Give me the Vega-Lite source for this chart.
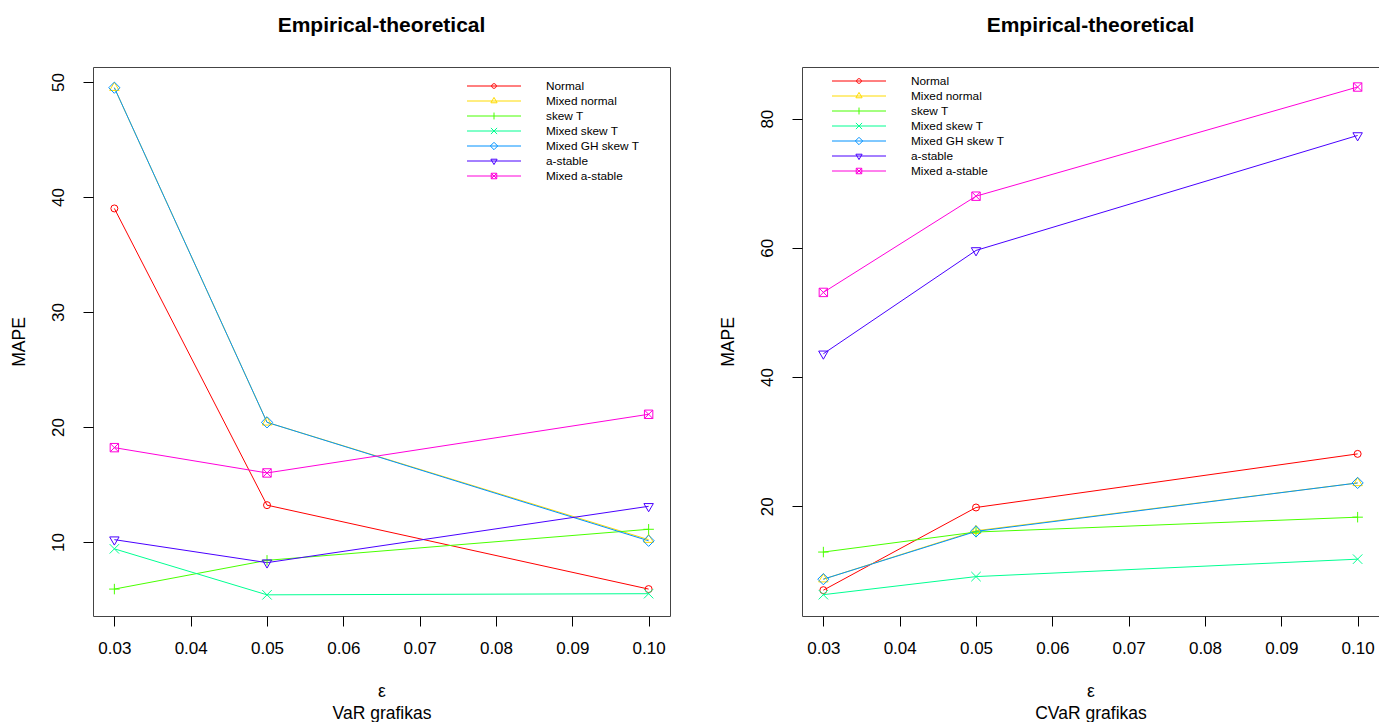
{
  "$schema": "https://vega.github.io/schema/vega-lite/v6.json",
  "padding": {"left": 9, "top": 14, "right": 0, "bottom": 0},
  "spacing": 41,
  "datasets": {
    "var": [
      {"eps": 0.03, "series": "Normal", "mape": 39.0},
      {"eps": 0.05, "series": "Normal", "mape": 13.2},
      {"eps": 0.10, "series": "Normal", "mape": 5.9},
      {"eps": 0.03, "series": "Mixed normal", "mape": 49.5},
      {"eps": 0.05, "series": "Mixed normal", "mape": 20.4},
      {"eps": 0.10, "series": "Mixed normal", "mape": 10.2},
      {"eps": 0.03, "series": "skew T", "mape": 5.9},
      {"eps": 0.05, "series": "skew T", "mape": 8.4},
      {"eps": 0.10, "series": "skew T", "mape": 11.1},
      {"eps": 0.03, "series": "Mixed skew T", "mape": 9.4},
      {"eps": 0.05, "series": "Mixed skew T", "mape": 5.4},
      {"eps": 0.10, "series": "Mixed skew T", "mape": 5.5},
      {"eps": 0.03, "series": "Mixed GH skew T", "mape": 49.5},
      {"eps": 0.05, "series": "Mixed GH skew T", "mape": 20.4},
      {"eps": 0.10, "series": "Mixed GH skew T", "mape": 10.1},
      {"eps": 0.03, "series": "a-stable", "mape": 10.2},
      {"eps": 0.05, "series": "a-stable", "mape": 8.2},
      {"eps": 0.10, "series": "a-stable", "mape": 13.1},
      {"eps": 0.03, "series": "Mixed a-stable", "mape": 18.2},
      {"eps": 0.05, "series": "Mixed a-stable", "mape": 16.0},
      {"eps": 0.10, "series": "Mixed a-stable", "mape": 21.1}
    ],
    "cvar": [
      {"eps": 0.03, "series": "Normal", "mape": 7.0},
      {"eps": 0.05, "series": "Normal", "mape": 19.8},
      {"eps": 0.10, "series": "Normal", "mape": 28.1},
      {"eps": 0.03, "series": "Mixed normal", "mape": 8.7},
      {"eps": 0.05, "series": "Mixed normal", "mape": 16.2},
      {"eps": 0.10, "series": "Mixed normal", "mape": 23.6},
      {"eps": 0.03, "series": "skew T", "mape": 12.9},
      {"eps": 0.05, "series": "skew T", "mape": 16.0},
      {"eps": 0.10, "series": "skew T", "mape": 18.3},
      {"eps": 0.03, "series": "Mixed skew T", "mape": 6.3},
      {"eps": 0.05, "series": "Mixed skew T", "mape": 9.1},
      {"eps": 0.10, "series": "Mixed skew T", "mape": 11.8},
      {"eps": 0.03, "series": "Mixed GH skew T", "mape": 8.7},
      {"eps": 0.05, "series": "Mixed GH skew T", "mape": 16.1},
      {"eps": 0.10, "series": "Mixed GH skew T", "mape": 23.6},
      {"eps": 0.03, "series": "a-stable", "mape": 43.6},
      {"eps": 0.05, "series": "a-stable", "mape": 59.6},
      {"eps": 0.10, "series": "a-stable", "mape": 77.4},
      {"eps": 0.03, "series": "Mixed a-stable", "mape": 53.1},
      {"eps": 0.05, "series": "Mixed a-stable", "mape": 68.0},
      {"eps": 0.10, "series": "Mixed a-stable", "mape": 84.9}
    ]
  },
  "config": {
    "font": "Liberation Sans",
    "view": {"stroke": "#444444", "strokeWidth": 1},
    "axis": {
      "grid": false,
      "domain": false,
      "tickColor": "#000000",
      "tickSize": 10,
      "tickWidth": 1,
      "labelFont": "Liberation Sans",
      "labelFontSize": 17,
      "labelColor": "#000000",
      "labelFlush": false,
      "titleFont": "Liberation Sans",
      "titleFontSize": 17.5,
      "titleFontWeight": "normal",
      "titleColor": "#000000"
    },
    "title": {
      "font": "Liberation Sans",
      "fontSize": 21,
      "fontWeight": "bold",
      "color": "#000000",
      "anchor": "middle",
      "frame": "group",
      "offset": 31,
      "baseline": "alphabetic"
    },
    "legend": {
      "title": null,
      "symbolSize": 144,
      "symbolStrokeWidth": 1,
      "symbolOpacity": 1,
      "labelFont": "Liberation Sans",
      "labelFontSize": 11.8,
      "labelColor": "#000000",
      "labelOffset": 45.5,
      "labelLimit": 400,
      "rowPadding": 1,
      "padding": 0
    }
  },
  "hconcat": [
    {
      "width": 577,
      "height": 549,
      "data": {"name": "var"},
      "title": {"text": "Empirical-theoretical"},
      "resolve": {"scale": {"color": "independent", "shape": "independent"}},
      "encoding": {
        "x": {
          "field": "eps", "type": "quantitative",
          "scale": {"domain": [0.0272, 0.1028], "nice": false, "zero": false},
          "axis": {"values": [0.03, 0.04, 0.05, 0.06, 0.07, 0.08, 0.09, 0.1], "format": ".2f", "title": ["ε", "VaR grafikas"], "labelPadding": 14, "titlePadding": 26, "titleLineHeight": 22}
        },
        "y": {
          "field": "mape", "type": "quantitative",
          "scale": {"domain": [3.56, 51.3], "nice": false, "zero": false},
          "axis": {"values": [10, 20, 30, 40, 50], "title": "MAPE", "labelAngle": -90, "labelAlign": "center", "labelBaseline": "alphabetic", "labelPadding": 20, "titlePadding": 21}
        }
      },
      "layer": [
        {
          "mark": {"type": "line", "strokeWidth": 1},
          "encoding": {
            "color": {"field": "series", "type": "nominal", "legend": null,
              "scale": {"domain": ["Normal", "Mixed normal", "skew T", "Mixed skew T", "Mixed GH skew T", "a-stable", "Mixed a-stable"],
                        "range": ["#FF0000", "#FFDB00", "#49FF00", "#00FF92", "#0092FF", "#4900FF", "#FF00DB"]}}
          }
        },
        {
          "mark": {"type": "point", "filled": false, "size": 49, "strokeWidth": 1, "opacity": 1},
          "encoding": {
            "color": {"field": "series", "type": "nominal", "legend": null,
              "scale": {"domain": ["Normal", "Mixed normal", "skew T", "Mixed skew T", "Mixed GH skew T", "a-stable", "Mixed a-stable"],
                        "range": ["#FF0000", "#FFDB00", "#49FF00", "#00FF92", "#0092FF", "#4900FF", "#FF00DB"]}},
            "shape": {"field": "series", "type": "nominal", "legend": null,
              "scale": {"domain": ["Normal", "Mixed normal", "skew T", "Mixed skew T", "Mixed GH skew T", "a-stable", "Mixed a-stable"],
                        "range": ["circle", "M0,-1.555L1.347,0.778L-1.347,0.778Z", "M-1.5,0H1.5M0,-1.5V1.5", "M-1.35,-1.35L1.35,1.35M-1.35,1.35L1.35,-1.35", "M0,-1.6L1.6,0L0,1.6L-1.6,0Z", "M0,1.555L1.347,-0.778L-1.347,-0.778Z", "M-1.2,-1.2H1.2V1.2H-1.2ZM-1.2,-1.2L1.2,1.2M-1.2,1.2L1.2,-1.2"]}}
          }
        },
        {
          "mark": {"type": "point", "filled": false, "size": 144, "strokeWidth": 1, "opacity": 0},
          "encoding": {
            "color": {"field": "series", "type": "nominal",
              "legend": {"orient": "none", "legendX": 394.5, "legendY": 12.5, "title": null},
              "scale": {"domain": ["Normal", "Mixed normal", "skew T", "Mixed skew T", "Mixed GH skew T", "a-stable", "Mixed a-stable"],
                        "range": ["#FF0000", "#FFDB00", "#49FF00", "#00FF92", "#0092FF", "#4900FF", "#FF00DB"]}},
            "shape": {"field": "series", "type": "nominal",
              "legend": {"orient": "none", "legendX": 394.5, "legendY": 12.5, "title": null},
              "scale": {"domain": ["Normal", "Mixed normal", "skew T", "Mixed skew T", "Mixed GH skew T", "a-stable", "Mixed a-stable"],
                        "range": ["M-4.5,0H4.5M0.383,0A0.383,0.383,0,1,1,-0.383,0A0.383,0.383,0,1,1,0.383,0", "M-4.5,0H4.5M0,-0.596L0.516,0.298L-0.516,0.298Z", "M-4.5,0H4.5M0,-0.575V0.575", "M-4.5,0H4.5M-0.517,-0.517L0.517,0.517M-0.517,0.517L0.517,-0.517", "M-4.5,0H4.5M0,-0.613L0.613,0L0,0.613L-0.613,0Z", "M-4.5,0H4.5M0,0.596L0.516,-0.298L-0.516,-0.298Z", "M-4.5,0H4.5M-0.46,-0.46H0.46V0.46H-0.46ZM-0.46,-0.46L0.46,0.46M-0.46,0.46L0.46,-0.46"]}}
          }
        }
      ]
    },
    {
      "width": 577,
      "height": 549,
      "data": {"name": "cvar"},
      "title": {"text": "Empirical-theoretical"},
      "resolve": {"scale": {"color": "independent", "shape": "independent"}},
      "encoding": {
        "x": {
          "field": "eps", "type": "quantitative",
          "scale": {"domain": [0.0272, 0.1028], "nice": false, "zero": false},
          "axis": {"values": [0.03, 0.04, 0.05, 0.06, 0.07, 0.08, 0.09, 0.1], "format": ".2f", "title": ["ε", "CVaR grafikas"], "labelPadding": 14, "titlePadding": 26, "titleLineHeight": 22}
        },
        "y": {
          "field": "mape", "type": "quantitative",
          "scale": {"domain": [3.0, 88.0], "nice": false, "zero": false},
          "axis": {"values": [20, 40, 60, 80], "title": "MAPE", "labelAngle": -90, "labelAlign": "center", "labelBaseline": "alphabetic", "labelPadding": 20, "titlePadding": 21}
        }
      },
      "layer": [
        {
          "mark": {"type": "line", "strokeWidth": 1},
          "encoding": {
            "color": {"field": "series", "type": "nominal", "legend": null,
              "scale": {"domain": ["Normal", "Mixed normal", "skew T", "Mixed skew T", "Mixed GH skew T", "a-stable", "Mixed a-stable"],
                        "range": ["#FF0000", "#FFDB00", "#49FF00", "#00FF92", "#0092FF", "#4900FF", "#FF00DB"]}}
          }
        },
        {
          "mark": {"type": "point", "filled": false, "size": 49, "strokeWidth": 1, "opacity": 1},
          "encoding": {
            "color": {"field": "series", "type": "nominal", "legend": null,
              "scale": {"domain": ["Normal", "Mixed normal", "skew T", "Mixed skew T", "Mixed GH skew T", "a-stable", "Mixed a-stable"],
                        "range": ["#FF0000", "#FFDB00", "#49FF00", "#00FF92", "#0092FF", "#4900FF", "#FF00DB"]}},
            "shape": {"field": "series", "type": "nominal", "legend": null,
              "scale": {"domain": ["Normal", "Mixed normal", "skew T", "Mixed skew T", "Mixed GH skew T", "a-stable", "Mixed a-stable"],
                        "range": ["circle", "M0,-1.555L1.347,0.778L-1.347,0.778Z", "M-1.5,0H1.5M0,-1.5V1.5", "M-1.35,-1.35L1.35,1.35M-1.35,1.35L1.35,-1.35", "M0,-1.6L1.6,0L0,1.6L-1.6,0Z", "M0,1.555L1.347,-0.778L-1.347,-0.778Z", "M-1.2,-1.2H1.2V1.2H-1.2ZM-1.2,-1.2L1.2,1.2M-1.2,1.2L1.2,-1.2"]}}
          }
        },
        {
          "mark": {"type": "point", "filled": false, "size": 144, "strokeWidth": 1, "opacity": 0},
          "encoding": {
            "color": {"field": "series", "type": "nominal",
              "legend": {"orient": "none", "legendX": 50.5, "legendY": 7.5, "title": null},
              "scale": {"domain": ["Normal", "Mixed normal", "skew T", "Mixed skew T", "Mixed GH skew T", "a-stable", "Mixed a-stable"],
                        "range": ["#FF0000", "#FFDB00", "#49FF00", "#00FF92", "#0092FF", "#4900FF", "#FF00DB"]}},
            "shape": {"field": "series", "type": "nominal",
              "legend": {"orient": "none", "legendX": 50.5, "legendY": 7.5, "title": null},
              "scale": {"domain": ["Normal", "Mixed normal", "skew T", "Mixed skew T", "Mixed GH skew T", "a-stable", "Mixed a-stable"],
                        "range": ["M-4.5,0H4.5M0.383,0A0.383,0.383,0,1,1,-0.383,0A0.383,0.383,0,1,1,0.383,0", "M-4.5,0H4.5M0,-0.596L0.516,0.298L-0.516,0.298Z", "M-4.5,0H4.5M0,-0.575V0.575", "M-4.5,0H4.5M-0.517,-0.517L0.517,0.517M-0.517,0.517L0.517,-0.517", "M-4.5,0H4.5M0,-0.613L0.613,0L0,0.613L-0.613,0Z", "M-4.5,0H4.5M0,0.596L0.516,-0.298L-0.516,-0.298Z", "M-4.5,0H4.5M-0.46,-0.46H0.46V0.46H-0.46ZM-0.46,-0.46L0.46,0.46M-0.46,0.46L0.46,-0.46"]}}
          }
        }
      ]
    }
  ]
}
